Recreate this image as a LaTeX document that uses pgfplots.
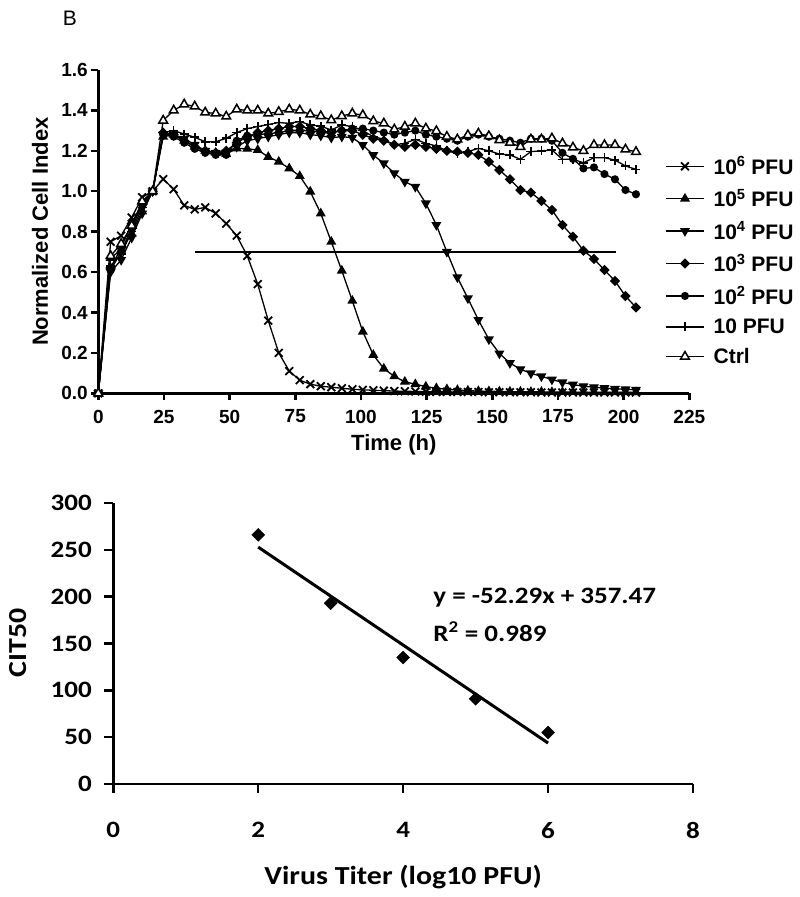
\documentclass[border=0pt]{standalone}
\usepackage{pgfplots}
\usepackage{pgfplotstable}
\pgfplotsset{compat=1.18}
\usepackage{fontspec}
\setmainfont{Liberation Sans}
\newfontfamily\calfont[FakeStretch=1.15]{Carlito}

\pgfplotstableread{
t     e6     e5     e4     e3     e2     e1     ctrl
0     0      0      0      0      0      0      0
4.7   0.75   0.67   0.60   0.62   0.61   0.63   0.68
8.7   0.78   0.71   0.66   0.72   0.70   0.69   0.74
12.7  0.87   0.79   0.77   0.84   0.82   0.80   0.83
16.7  0.97   0.90   0.89   0.94   0.93   0.92   0.95
20.7  1.00   1.00   1.00   1.00   1.00   1.00   1.00
24.7  1.06   1.27   1.28   1.29   1.28   1.29   1.35
28.7  1.01   1.28   1.28   1.28   1.27   1.30   1.40
32.7  0.93   1.25   1.26   1.25   1.24   1.283  1.43
36.7  0.91   1.22   1.23   1.22   1.21   1.267  1.42
40.7  0.92   1.20   1.20   1.20   1.19   1.245  1.39
44.7  0.89   1.19   1.19   1.19   1.18   1.245  1.385
48.7  0.84   1.184  1.19   1.20   1.18   1.262  1.37
52.7  0.78   1.212  1.22   1.24   1.25   1.29   1.405
56.7  0.68   1.21   1.25   1.27   1.275  1.31   1.40
60.7  0.54   1.204  1.26   1.29   1.28   1.32   1.40
64.7  0.36   1.17   1.27   1.30   1.285  1.33   1.385
68.7  0.20   1.146  1.28   1.31   1.29   1.34   1.393
72.7  0.11   1.113  1.29   1.32   1.30   1.336  1.405
76.7  0.065  1.075  1.29   1.32   1.30   1.345  1.40
80.7  0.045  0.998  1.28   1.31   1.30   1.328  1.38
84.7  0.035  0.89   1.275  1.30   1.29   1.322  1.372
88.7  0.03   0.75   1.265  1.29   1.29   1.303  1.352
92.7  0.025  0.607  1.27   1.30   1.30   1.328  1.372
96.7  0.02   0.458  1.265  1.30   1.31   1.32   1.385
100.7 0.017  0.305  1.229  1.28   1.31   1.30   1.377
104.7 0.015  0.19   1.179  1.26   1.30   1.27   1.347
108.7 0.013  0.122  1.138  1.25   1.29   1.257  1.336
112.7 0.011  0.084  1.089  1.23   1.28   1.229  1.306
116.7 0.010  0.057  1.047  1.22   1.29   1.237  1.32
120.7 0.009  0.045  1.022  1.23   1.30   1.257  1.336
124.7 0.008  0.033  0.94   1.22   1.28   1.237  1.311
128.7 0.007  0.025  0.833  1.21   1.27   1.224  1.298
132.7 0.007  0.02   0.70   1.20   1.26   1.20   1.27
136.7 0.006  0.016  0.574  1.196  1.25   1.187  1.257
140.7 0.006  0.013  0.47   1.19   1.27   1.196  1.278
144.7 0.006  0.011  0.363  1.18   1.28   1.212  1.286
148.7 0.005  0.010  0.267  1.146  1.27   1.20   1.273
152.7 0.005  0.009  0.197  1.105  1.26   1.184  1.253
156.7 0.005  0.008  0.15   1.059  1.25   1.18   1.24
160.7 0.005  0.008  0.119  1.006  1.24   1.158  1.22
164.7 0.005  0.007  0.099  0.993  1.26   1.196  1.257
168.7 0.004  0.007  0.084  0.952  1.26   1.20   1.257
172.7 0.004  0.006  0.068  0.907  1.25   1.204  1.262
176.7 0.004  0.006  0.054  0.833  1.19   1.158  1.237
180.7 0.004  0.006  0.043  0.775  1.16   1.158  1.217
184.7 0.004  0.005  0.035  0.706  1.113  1.141  1.20
188.7 0.004  0.005  0.03   0.665  1.118  1.166  1.229
192.7 0.004  0.005  0.026  0.61   1.085  1.166  1.229
196.7 0.004  0.005  0.022  0.556  1.059  1.154  1.229
200.7 0.004  0.005  0.02   0.481  1.006  1.125  1.207
204.7 0.004  0.005  0.018  0.425  0.985  1.108  1.195
}\kinetics

\pgfplotstableread{
x  y
2  266
3  193
4  135
5  91
6  55
}\citdata

\begin{document}
\begin{tikzpicture}
\begin{axis}[
  at={(98.3pt,503.7pt)}, anchor=south west,
  scale only axis, width=591pt, height=323.3pt,
  xmin=0, xmax=225, ymin=0, ymax=1.6,
  clip=false,
  axis lines=left,
  axis line style={-, line width=3pt, black},
  xtick={0,25,50,75,100,125,150,175,200,225},
  ytick={0,0.2,0.4,0.6,0.8,1.0,1.2,1.4,1.6},
  tick align=outside, major tick length=7pt,
  tick style={line width=2.5pt, black},
  /pgf/number format/assume math mode=true,
  ticklabel style={font=\fontsize{19}{22}\selectfont\bfseries},
  xticklabel style={yshift=-6pt},
  yticklabel style={/pgf/number format/.cd, fixed, fixed zerofill, precision=1},
  xlabel={Time (h)},
  xlabel style={at={(axis description cs:0.5,-0.16)}, anchor=center, font=\fontsize{22}{26}\selectfont\bfseries},
  ylabel={Normalized Cell Index},
  ylabel style={at={(axis description cs:-0.0986,0.5)}, anchor=center, font=\fontsize{22}{26}\selectfont\bfseries},
  legend style={at={(0.954,0.745)}, anchor=north west, draw=none, fill=none,
    font=\fontsize{21}{24}\selectfont\bfseries, row sep=9.2pt, column sep=7pt},
  legend cell align=left,
  legend image code/.code={\draw[mark repeat=2,mark phase=2,#1] plot coordinates {(0pt,0pt) (19pt,0pt) (38pt,0pt)};},
  every axis plot/.append style={line width=1.3pt, black},
]
\addplot[mark=x, mark size=5.5pt, mark options={line width=1.8pt}] table[x=t,y=e6] {\kinetics};
\addlegendentry{10\textsuperscript{6} PFU}
\addplot[mark=triangle*, mark size=4.5pt] table[x=t,y=e5] {\kinetics};
\addlegendentry{10\textsuperscript{5} PFU}
\addplot[mark=triangle*, mark size=4.5pt, mark options={rotate=180}] table[x=t,y=e4] {\kinetics};
\addlegendentry{10\textsuperscript{4} PFU}
\addplot[mark=square*, mark size=3pt, mark options={rotate=45}] table[x=t,y=e3] {\kinetics};
\addlegendentry{10\textsuperscript{3} PFU}
\addplot[mark=*, mark size=3.4pt] table[x=t,y=e2] {\kinetics};
\addlegendentry{10\textsuperscript{2} PFU}
\addplot[mark=+, mark size=4.5pt, mark options={line width=1.6pt}] table[x=t,y=e1] {\kinetics};
\addlegendentry{10 PFU}
\addplot[mark=triangle*, mark size=5pt, mark options={fill=white, line width=1.5pt}] table[x=t,y=ctrl] {\kinetics};
\addlegendentry{Ctrl}
\addplot[forget plot, line width=1.3pt] coordinates {(37,0.7) (197,0.7)};
\end{axis}

\node[font=\fontsize{21}{24}\selectfont] at (70pt,879pt) {B};

\begin{axis}[
  at={(113.3pt,113pt)}, anchor=south west,
  scale only axis, width=579.7pt, height=281pt,
  xmin=0, xmax=8, ymin=0, ymax=300,
  clip=false,
  axis lines=left,
  axis line style={-, line width=2.7pt, black},
  xtick={0,2,4,6,8},
  ytick={0,50,100,150,200,250,300},
  tick align=outside, major tick length=9pt,
  tick style={line width=2.5pt, black},
  /pgf/number format/assume math mode=true,
  ticklabel style={font=\calfont\fontsize{23.5}{27}\selectfont\bfseries},
  xticklabel style={yshift=-26pt},
  yticklabel style={xshift=-9pt},
  xlabel={Virus Titer (log10 PFU)},
  xlabel style={at={(axis description cs:0.5,-0.331)}, anchor=center, font=\calfont\fontsize{26}{30}\selectfont\bfseries},
  ylabel={CIT50},
  ylabel style={at={(axis description cs:-0.165,0.502)}, anchor=center, font=\calfont\fontsize{26}{30}\selectfont\bfseries},
]
\addplot[only marks, mark=square*, mark size=4.6pt, mark options={rotate=45, fill=black}, black] table[x=x,y=y] {\citdata};
\addplot[black, line width=3pt] coordinates {(2,252.89) (6,43.73)};
\node[anchor=west, font=\calfont\fontsize{23.5}{27}\selectfont\bfseries] at (axis cs:4.37,198.6) {y = -52.29x + 357.47};
\node[anchor=west, font=\calfont\fontsize{23.5}{27}\selectfont\bfseries] at (axis cs:4.37,162.3) {R\textsuperscript{2} = 0.989};
\end{axis}

\pgfresetboundingbox
\useasboundingbox (0,0) rectangle (800pt,897pt);
\end{tikzpicture}
\end{document}
